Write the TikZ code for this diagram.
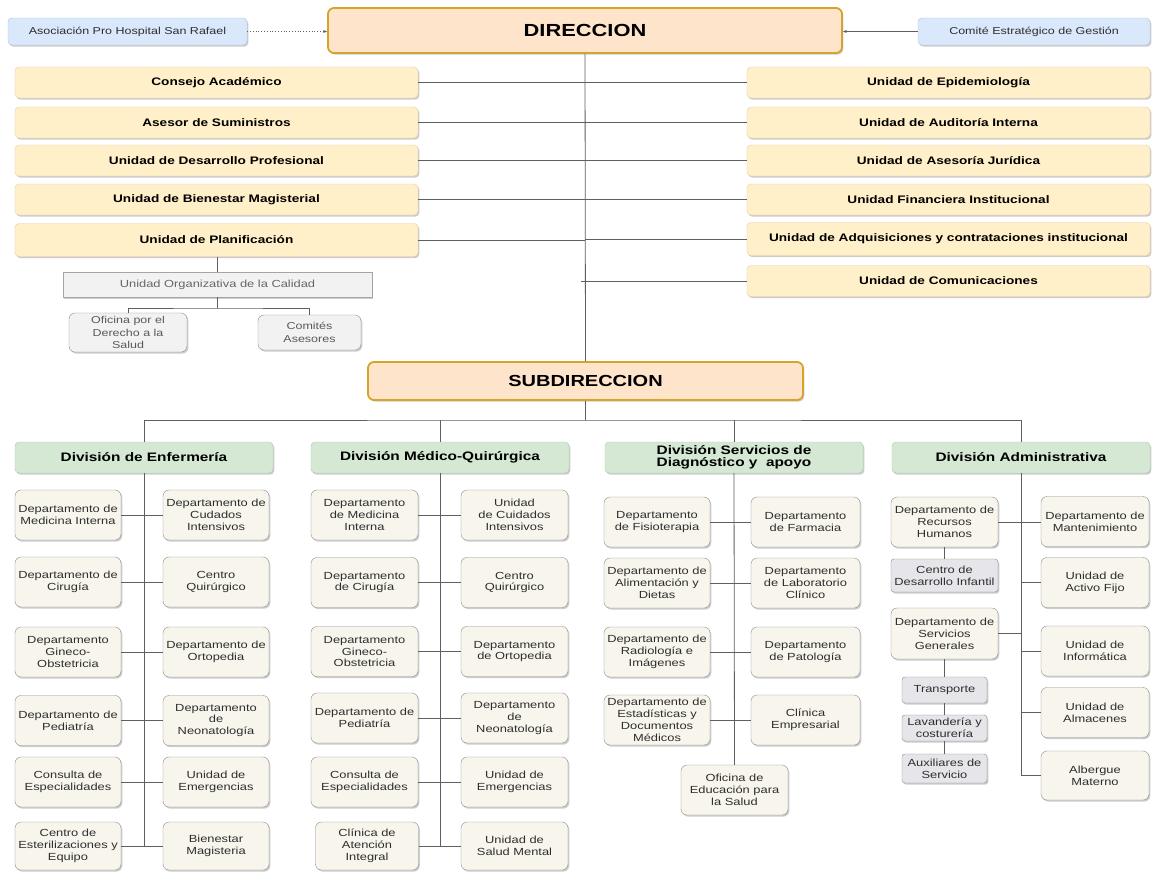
\documentclass[tikz,border=0pt]{standalone}
\usepackage{fontspec}
\setmainfont{Liberation Sans}[FakeStretch=1.25]
\usetikzlibrary{shadows,arrows.meta}

\definecolor{sidefill}{HTML}{DAE8FC}
\definecolor{sideline}{HTML}{A9C1E2}
\definecolor{dirfill}{HTML}{FFE4CC}
\definecolor{dirline}{HTML}{D6A32B}
\definecolor{stafffill}{HTML}{FFF0C9}
\definecolor{staffline}{HTML}{E3CFA2}
\definecolor{divfill}{HTML}{D5E8D4}
\definecolor{divline}{HTML}{AFC9AD}
\definecolor{deptfill}{HTML}{F7F5EC}
\definecolor{deptline}{HTML}{8E8E8E}
\definecolor{greyfill}{HTML}{E6E6EA}
\definecolor{calfill}{HTML}{F2F2F2}
\definecolor{linkcol}{HTML}{5F5F5F}
\definecolor{txtcol}{HTML}{2E2E2E}

\begin{document}
\begin{tikzpicture}[x=1pt, y=-1pt,
  box/.style={draw, align=center, inner sep=1pt,
    drop shadow={shadow xshift=1.3pt, shadow yshift=-1.6pt, opacity=.4}},
  sidebox/.style={box, fill=sidefill, draw=sideline, rounded corners=4pt,
    text=txtcol, font=\fontsize{10}{12}\selectfont, minimum height=27pt},
  dirbox/.style={box, fill=dirfill, draw=dirline, line width=1.8pt, rounded corners=6pt,
    font=\bfseries\fontsize{17.5}{20}\selectfont},
  staffbox/.style={box, fill=stafffill, draw=staffline, rounded corners=4pt,
    font=\bfseries\fontsize{10.9}{13}\selectfont, minimum width=403pt, minimum height=31pt},
  calbox/.style={box, fill=calfill, draw=deptline!80, text=black!60,
    font=\fontsize{10.3}{12}\selectfont},
  divbox/.style={box, fill=divfill, draw=divline, rounded corners=4pt,
    font=\bfseries\fontsize{12.3}{12.5}\selectfont, minimum width=258pt, minimum height=31pt},
  deptbox/.style={box, fill=deptfill, draw=deptline, rounded corners=6pt, text=txtcol,
    font=\fontsize{10.3}{11.9}\selectfont, minimum height=50pt},
  greybox/.style={deptbox, fill=greyfill, rounded corners=3pt},
  link/.style={draw=linkcol, line width=.8pt}
]
\useasboundingbox (0,0) rectangle (1156,871);
\fill[white] (0,0) rectangle (1156,871);

% direccion
\node[dirbox, minimum width=514pt, minimum height=45pt] (dir) at (585,30.5) {DIRECCION};
\node[sidebox, minimum width=239pt] (asoc) at (127.5,31.5) {Asociación Pro Hospital San Rafael};
\node[sidebox, minimum width=232pt] (comi) at (1034,31.5) {Comité Estratégico de Gestión};

\draw[link, dotted, -{Stealth[length=4pt,width=3pt]}] (asoc.east) -- (asoc.east -| dir.west);
\draw[link, -{Stealth[length=4pt,width=3pt]}] (comi.west) -- (comi.west -| dir.east);

% staff units
\node[staffbox] (cons) at (216.5,82.5) {Consejo Académico};
\node[staffbox] (ases) at (216.5,122.5) {Asesor de Suministros};
\node[staffbox] (desa) at (216.5,160.5) {Unidad de Desarrollo Profesional};
\node[staffbox] (bien) at (216.5,199.5) {Unidad de Bienestar Magisterial};
\node[staffbox, minimum height=33pt] (plan) at (216.5,240) {Unidad de Planificación};

\node[staffbox] (epid) at (948.5,82.5) {Unidad de Epidemiología};
\node[staffbox] (audi) at (948.5,122.5) {Unidad de Auditoría Interna};
\node[staffbox] (juri) at (948.5,160.5) {Unidad de Asesoría Jurídica};
\node[staffbox] (fina) at (948.5,199.5) {Unidad Financiera Institucional};
\node[staffbox, minimum height=33pt] (adqu) at (948.5,239) {Unidad de Adquisiciones y contrataciones institucional};
\node[staffbox] (comu) at (948.5,281) {Unidad de Comunicaciones};

% calidad
\node[calbox, minimum width=309pt, minimum height=25pt] (cal) at (217.5,284.5) {Unidad Organizativa de la Calidad};
\node[deptbox, fill=calfill, text=black!65, minimum width=118pt, minimum height=39pt,
  font=\fontsize{10}{12.5}\selectfont] (ofic) at (128,332.5) {Oficina por el\\Derecho a la\\Salud};
\node[deptbox, fill=calfill, text=black!65, minimum width=103pt, minimum height=35pt,
  font=\fontsize{10}{12.5}\selectfont] (cmts) at (309.5,332.5) {Comités\\Asesores};
\coordinate (calbar) at (217.5,308);

% subdireccion
\node[dirbox, font=\bfseries\fontsize{16}{18}\selectfont, minimum width=435pt, minimum height=38pt] (sub) at (585.5,381) {SUBDIRECCION};
\coordinate (subbar) at (585.5,420);

\draw[link] (dir.south) -- (sub.north);
\draw[link] (cons.east) -- (cons.east -| dir.south);
\draw[link] (ases.east) -- (ases.east -| dir.south);
\draw[link] (desa.east) -- (desa.east -| dir.south);
\draw[link] (bien.east) -- (bien.east -| dir.south);
\draw[link] (plan.east) -- (plan.east -| dir.south);
\draw[link] (epid.west) -- (epid.west -| dir.south);
\draw[link] (audi.west) -- (audi.west -| dir.south);
\draw[link] (juri.west) -- (juri.west -| dir.south);
\draw[link] (fina.west) -- (fina.west -| dir.south);
\draw[link] (adqu.west) -- (adqu.west -| dir.south);
\draw[link] (comu.west) -- ([xshift=-4pt]comu.west -| dir.south);

\draw[link] (plan.south -| cal.north) -- (cal.north);
\draw[link] (cal.south) -- (calbar);
\draw[link] (ofic.north) |- (calbar) -| (cmts.north);

% divisiones
\node[divbox] (enf) at (144,457.5) {División de Enfermería};
\node[divbox] (med) at (440,457.5) {División Médico-Quirúrgica};
\node[divbox] (ser) at (734,457.5) {División Servicios de\\Diagnóstico y~ apoyo};
\node[divbox] (adm) at (1021,457.5) {División Administrativa};

\draw[link] (sub.south) -- (subbar);
\draw[link] (enf.north) |- (subbar) -| (adm.north);
\draw[link] (med.north) -- (med.north |- subbar);
\draw[link] (ser.north) -- (ser.north |- subbar);

% enfermeria
\node[deptbox, minimum width=106pt] (e1l) at (68,515) {Departamento de\\Medicina Interna};
\node[deptbox, minimum width=106pt] (e2l) at (68,582) {Departamento de\\Cirugía};
\node[deptbox, minimum width=106pt] (e3l) at (68,652) {Departamento\\Gineco-\\Obstetricia};
\node[deptbox, minimum width=106pt] (e4l) at (68,720.5) {Departamento de\\Pediatría};
\node[deptbox, minimum width=106pt] (e5l) at (68,782) {Consulta de\\Especialidades};
\node[deptbox, minimum width=106pt, minimum height=48pt] (e6l) at (68,846) {Centro de\\Esterilizaciones y\\Equipo};
\node[deptbox, minimum width=106pt] (e1r) at (216,515) {Departamento de\\Cudados\\Intensivos};
\node[deptbox, minimum width=106pt] (e2r) at (216,582) {Centro\\Quirúrgico};
\node[deptbox, minimum width=106pt] (e3r) at (216,652) {Departamento de\\Ortopedia};
\node[deptbox, minimum width=106pt] (e4r) at (216,720.5) {Departamento\\de\\Neonatología};
\node[deptbox, minimum width=106pt] (e5r) at (216,782) {Unidad de\\Emergencias};
\node[deptbox, minimum width=106pt, minimum height=48pt] (e6r) at (216,846) {Bienestar\\Magisteria};

\draw[link] (enf.south) -- (enf.south |- e6l.east);
\draw[link] (e1l.east) -- (e1r.west);
\draw[link] (e2l.east) -- (e2r.west);
\draw[link] (e3l.east) -- (e3r.west);
\draw[link] (e4l.east) -- (e4r.west);
\draw[link] (e5l.east) -- (e5r.west);
\draw[link] (e6l.east) -- (e6r.west);

% medico-quirurgica
\node[deptbox, minimum width=107pt] (m1l) at (364.5,515) {Departamento\\de Medicina\\Interna};
\node[deptbox, minimum width=107pt] (m2l) at (364.5,582.5) {Departamento\\de Cirugía};
\node[deptbox, minimum width=107pt] (m3l) at (364.5,651.5) {Departamento\\Gineco-\\Obstetricia};
\node[deptbox, minimum width=107pt] (m4l) at (364.5,718) {Departamento de\\Pediatría};
\node[deptbox, minimum width=107pt] (m5l) at (364.5,782) {Consulta de\\Especialidades};
\node[deptbox, minimum width=103pt, minimum height=48pt] (m6l) at (367,846) {Clínica de\\Atención\\Integral};
\node[deptbox, minimum width=107pt] (m1r) at (514.5,515) {Unidad\\de Cuidados\\Intensivos};
\node[deptbox, minimum width=107pt] (m2r) at (514.5,582.5) {Centro\\Quirúrgico};
\node[deptbox, minimum width=107pt] (m3r) at (514.5,651.5) {Departamento\\de Ortopedia};
\node[deptbox, minimum width=107pt] (m4r) at (514.5,718) {Departamento\\de\\Neonatología};
\node[deptbox, minimum width=107pt] (m5r) at (514.5,782) {Unidad de\\Emergencias};
\node[deptbox, minimum width=107pt, minimum height=48pt] (m6r) at (514.5,846) {Unidad de\\Salud Mental};

\draw[link] (med.south) -- (med.south |- m6l.east);
\draw[link] (m1l.east) -- (m1r.west);
\draw[link] (m2l.east) -- (m2r.west);
\draw[link] (m3l.east) -- (m3r.west);
\draw[link] (m4l.east) -- (m4r.west);
\draw[link] (m5l.east) -- (m5r.west);
\draw[link] (m6l.east) -- (m6r.west);

% diagnostico y apoyo
\node[deptbox, minimum width=106pt] (s1l) at (657,522) {Departamento\\de Fisioterapia};
\node[deptbox, minimum width=106pt] (s2l) at (657,583) {Departamento de\\Alimentación y\\Dietas};
\node[deptbox, minimum width=106pt] (s3l) at (657,652) {Departamento de\\Radiología e\\Imágenes};
\node[deptbox, minimum width=106pt] (s4l) at (657,720) {Departamento de\\Estadísticas y\\Documentos\\Médicos};
\node[deptbox, minimum width=109pt] (s1r) at (805.5,522) {Departamento\\de Farmacia};
\node[deptbox, minimum width=109pt] (s2r) at (805.5,583) {Departamento\\de Laboratorio\\Clínico};
\node[deptbox, minimum width=109pt] (s3r) at (805.5,652) {Departamento\\de Patología};
\node[deptbox, minimum width=109pt] (s4r) at (805.5,720) {Clínica\\Empresarial};
\node[deptbox, minimum width=107pt] (sedu) at (734.5,790) {Oficina de\\Educación para\\la Salud};

\draw[link] (ser.south) -- (sedu.north);
\draw[link] (s1l.east) -- (s1r.west);
\draw[link] (s2l.east) -- (s2r.west);
\draw[link] (s3l.east) -- (s3r.west);
\draw[link] (s4l.east) -- (s4r.west);

% administrativa
\node[deptbox, minimum width=107pt] (arh) at (944.5,522) {Departamento de\\Recursos\\Humanos};
\node[greybox, minimum width=107pt, minimum height=33pt] (acdi) at (944.5,575.5) {Centro de\\Desarrollo Infantil};
\node[deptbox, minimum width=107pt, minimum height=51pt] (asg) at (944.5,633.5) {Departamento de\\Servicios\\Generales};
\node[greybox, minimum width=85pt, minimum height=26pt] (atra) at (944.5,690) {Transporte};
\node[greybox, minimum width=85pt, minimum height=26pt] (alav) at (944.5,728) {Lavandería y\\costurería};
\node[greybox, minimum width=85pt, minimum height=29pt] (aaux) at (944.5,768.5) {Auxiliares de\\Servicio};
\node[deptbox, minimum width=108pt] (aman) at (1095,521.5) {Departamento de\\Mantenimiento};
\node[deptbox, minimum width=108pt] (aact) at (1095,582.5) {Unidad de\\Activo Fijo};
\node[deptbox, minimum width=108pt] (ainf) at (1095,651) {Unidad de\\Informática};
\node[deptbox, minimum width=108pt] (aalm) at (1095,712.5) {Unidad de\\Almacenes};
\node[deptbox, minimum width=108pt, minimum height=49pt] (aalb) at (1095,775.5) {Albergue\\Materno};

\draw[link] (adm.south) -- (adm.south |- aalb.west);
\draw[link] (arh.east) -- (arh.east -| aman.west);
\draw[link] (asg.east) -- (asg.east -| adm.south);
\draw[link] (aact.west) -- (aact.west -| adm.south);
\draw[link] (ainf.west) -- (ainf.west -| adm.south);
\draw[link] (aalm.west) -- (aalm.west -| adm.south);
\draw[link] (aalb.west) -- (aalb.west -| adm.south);
\draw[link] (arh.south) -- (acdi.north);
\draw[link] (asg.south) -- (atra.north);
\draw[link] (atra.south) -- (alav.north);
\draw[link] (alav.south) -- (aaux.north);
\end{tikzpicture}
\end{document}
